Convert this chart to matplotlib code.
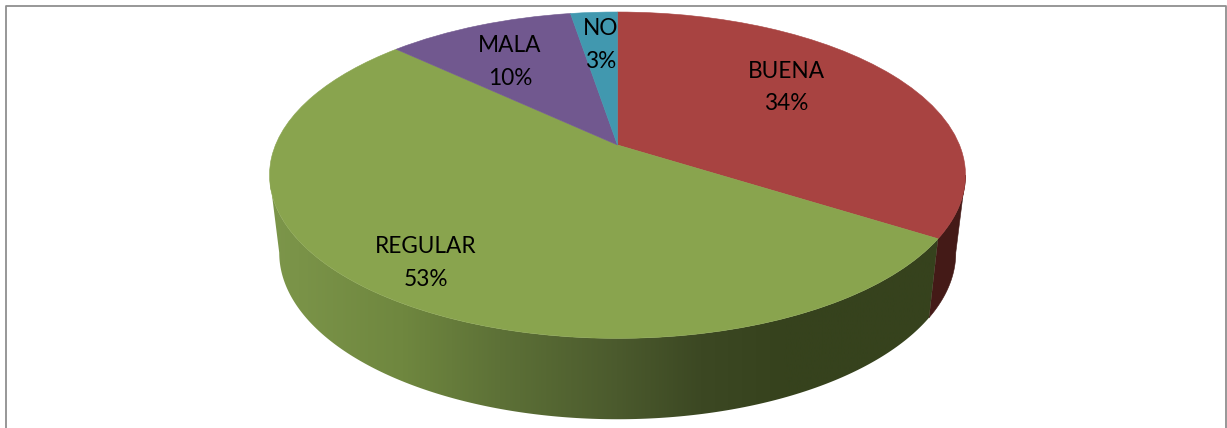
#!/usr/bin/env python3
from matplotlib import pyplot as plt
from matplotlib.colors import LinearSegmentedColormap
from matplotlib.patches import Polygon
from matplotlib.transforms import Transform
import numpy as np

plt.rcParams["font.family"] = ["Lato", "DejaVu Sans"]

# data
names = ["BUENA", "REGULAR", "MALA", "NO"]
values = [34.0, 53.0, 10.4, 2.6]
colors = ["#A84341", "#89A44E", "#71588F", "#4198AF"]
wall_colors = ["#441a17", "#36421d", "#443555", "#275b69"]
label_x = [786, 426, 510, 601]
label_y = [87.5, 263, 62, 45]

# picture geometry of the tilted pie
cx, apex_y = 617.5, 145
k = 0.185
ax_a, ax_b = 342, 157.6
wall_sx, wall_sy, wall_dy = 0.972, 1.02, 77


def project(u, v):
    den = 1 + k * v
    return cx + ax_a * u / den, apex_y - ax_b * v / den


class Tilt(Transform):
    input_dims = 2
    output_dims = 2

    def transform_non_affine(self, values):
        values = np.asarray(values)
        x, y = project(values[:, 0], values[:, 1])
        return np.column_stack([x, y])


def wall_shape(t1, t2):
    t = np.radians(np.linspace(t1, t2, 200))
    x, y = project(np.cos(t), np.sin(t))
    x2 = cx + (x - cx) * wall_sx
    y2 = apex_y + wall_dy + (y - apex_y) * wall_sy
    return np.column_stack([np.r_[x, x2[::-1]], np.r_[y, y2[::-1]]])


fig = plt.figure(figsize=(12.27, 4.28), dpi=100)
ax = fig.add_axes([0, 0, 1, 1])

wedges, _ = ax.pie(values, colors=colors, startangle=90, counterclock=False)

ax.set_aspect("auto")
ax.set_xlim(0, 1227)
ax.set_ylim(428, 0)
ax.axis("off")

tilt = Tilt() + ax.transData
for w in wedges:
    w.set_transform(tilt)
    w.set_edgecolor(w.get_facecolor())
    w.set_linewidth(0.4)
    w.set_zorder(3)

# outer wall, only the front part of the rim shows
side = np.degrees(np.arcsin(k))
front1, front2 = -180 + side, -side
green_grad = LinearSegmentedColormap.from_list("wall", [
    (0.00, "#7c964a"), (0.04, "#7a9348"), (0.19, "#6f873f"), (0.33, "#5d7137"),
    (0.50, "#4b5a2d"), (0.62, "#3c4823"), (0.74, "#36421d"), (1.00, "#36421d")])
for i, w in enumerate(wedges):
    t1, t2 = max(w.theta1, front1), min(w.theta2, front2)
    if t1 >= t2:
        continue
    shape = Polygon(wall_shape(t1, t2), closed=True, transform=ax.transData,
                    facecolor=wall_colors[i], edgecolor=wall_colors[i], linewidth=0.4, zorder=2)
    ax.add_patch(shape)
    if names[i] == "REGULAR":
        shape.set_facecolor("none")
        shape.set_edgecolor("none")
        im = ax.imshow(np.linspace(0, 1, 256).reshape(1, -1), cmap=green_grad, aspect="auto",
                       extent=(270, 965, 428, 0), zorder=2)
        im.set_clip_path(shape)

ax.set_xlim(0, 1227)
ax.set_ylim(428, 0)

total = sum(values)
for name, v, x, y in zip(names, values, label_x, label_y):
    ax.text(x, y, f"{name}\n{v / total * 100:.0f}%", ha="center", va="center",
            fontsize=16.3, linespacing=1.66, color="black", zorder=5)

# chart frame, bottom edge is cut off by the picture
ax.plot([5.5, 5.5, 1226, 1226], [428, 6, 6, 428], color="#8f8f8f", lw=1.3, zorder=6, clip_on=False)

fig.savefig("out.png", dpi=100)
plt.close(fig)
